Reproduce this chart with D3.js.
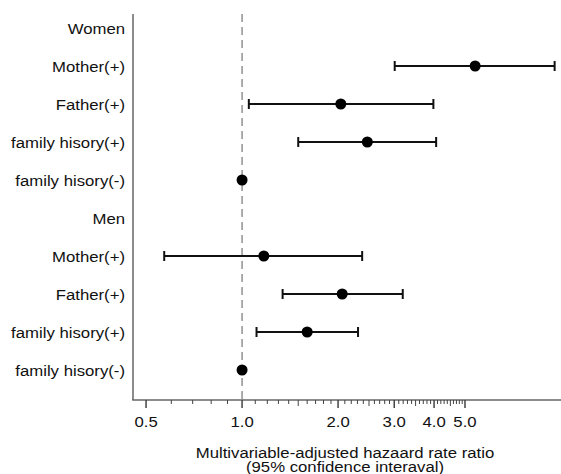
<!DOCTYPE html>
<html>
<head>
<meta charset="utf-8">
<script src="https://cdn.jsdelivr.net/npm/d3@7"></script>
<style>
  html, body { margin: 0; padding: 0; background: #fff; }
  svg { display: block; }
  text { font-family: "Liberation Sans", Arial, sans-serif; fill: #111; }
</style>
</head>
<body>
<svg id="chart" width="561" height="474"></svg>
<script>
// Row labels, top to bottom
const rowLabels = [
  "Women", "Mother(+)", "Father(+)", "family hisory(+)", "family hisory(-)",
  "Men", "Mother(+)", "Father(+)", "family hisory(+)", "family hisory(-)"
];
// Hazard ratio estimates and 95% CI (null for header rows)
const estimates = [null, 5.38, 2.04, 2.47, 1.00, null, 1.17, 2.06, 1.60, 1.00];
const lowerCI   = [null, 3.01, 1.05, 1.50, null, null, 0.57, 1.34, 1.11, null];
const upperCI   = [null, 9.55, 3.98, 4.06, null, null, 2.38, 3.19, 2.31, null];

// Axis ticks
const majorTicks = [0.5, 1, 2, 3, 4, 5];
const majorTickLabels = ["0.5", "1.0", "2.0", "3.0", "4.0", "5.0"];
const midTicks = [1.5, 2.5, 3.5, 4.5];
const minorTicks = [0.6, 0.7, 0.8, 0.9].concat(
  d3.range(11, 50).filter(v => v % 5 !== 0).map(v => v / 10)
);

const xTitle = ["Multivariable-adjusted hazaard rate ratio", "(95% confidence interaval)"];

const svg = d3.select("#chart");
const plotLeft = 133, plotRight = 561, plotTop = 14, plotBottom = 400;
const fontSize = 15.5, stretch = 1.08;

const x = d3.scaleLog().domain([0.455, 10]).range([plotLeft, plotRight]);
const y = d3.scalePoint().domain(d3.range(rowLabels.length)).range([28, 370]);

const axisColor = "#666";

// Text placed at (px, py), slightly widened glyphs
function place(sel, px, py) {
  return sel.attr("x", 0).attr("y", 0)
    .attr("font-size", fontSize)
    .attr("transform", (d, i) => `translate(${px(d, i)},${py(d, i)}) scale(${stretch},1)`);
}

// Reference line at ratio 1
svg.append("line")
  .attr("x1", x(1)).attr("x2", x(1))
  .attr("y1", plotTop).attr("y2", plotBottom)
  .attr("stroke", "#777").attr("stroke-width", 1.2)
  .attr("stroke-dasharray", "8,5");

// Left axis line
svg.append("line")
  .attr("x1", plotLeft).attr("x2", plotLeft)
  .attr("y1", plotTop).attr("y2", plotBottom)
  .attr("stroke", axisColor).attr("stroke-width", 1.5);

// Bottom axis line
svg.append("line")
  .attr("x1", plotLeft - 0.75).attr("x2", plotRight)
  .attr("y1", plotBottom).attr("y2", plotBottom)
  .attr("stroke", axisColor).attr("stroke-width", 1.5);

// Ticks
const tickG = svg.append("g").attr("stroke", "#444").attr("stroke-width", 1);
tickG.selectAll(".minor").data(minorTicks).join("line")
  .attr("x1", d => x(d)).attr("x2", d => x(d))
  .attr("y1", plotBottom).attr("y2", plotBottom + 4);
tickG.selectAll(".mid").data(midTicks).join("line")
  .attr("x1", d => x(d)).attr("x2", d => x(d))
  .attr("y1", plotBottom).attr("y2", plotBottom + 6);
tickG.selectAll(".major").data(majorTicks).join("line")
  .attr("x1", d => x(d)).attr("x2", d => x(d))
  .attr("y1", plotBottom).attr("y2", plotBottom + 8)
  .attr("stroke-width", 1.5);

place(svg.selectAll(".tickLabel").data(majorTicks).join("text"), d => x(d), () => 427)
  .attr("text-anchor", "middle")
  .text((d, i) => majorTickLabels[i]);

// Row labels
place(svg.selectAll(".rowLabel").data(rowLabels).join("text"), () => 125, (d, i) => y(i) + 5.5)
  .attr("text-anchor", "end")
  .text(d => d);

// Confidence intervals
const ci = d3.range(rowLabels.length).filter(i => lowerCI[i] != null);
const ciG = svg.append("g").attr("stroke", "#111").attr("stroke-width", 2);
ciG.selectAll(".ci").data(ci).join("line")
  .attr("x1", i => x(lowerCI[i])).attr("x2", i => x(upperCI[i]))
  .attr("y1", i => y(i)).attr("y2", i => y(i));
ciG.selectAll(".capL").data(ci).join("line")
  .attr("x1", i => x(lowerCI[i])).attr("x2", i => x(lowerCI[i]))
  .attr("y1", i => y(i) - 5).attr("y2", i => y(i) + 5);
ciG.selectAll(".capR").data(ci).join("line")
  .attr("x1", i => x(upperCI[i])).attr("x2", i => x(upperCI[i]))
  .attr("y1", i => y(i) - 5).attr("y2", i => y(i) + 5);

// Point estimates
const pts = d3.range(rowLabels.length).filter(i => estimates[i] != null);
svg.selectAll(".pt").data(pts).join("circle")
  .attr("cx", i => x(estimates[i])).attr("cy", i => y(i))
  .attr("r", 5.5).attr("fill", "#000");

// Axis title
place(svg.selectAll(".xTitle").data(xTitle).join("text"), () => 345, (d, i) => 458 + i * 14)
  .attr("text-anchor", "middle")
  .text(d => d);
</script>
</body>
</html>
